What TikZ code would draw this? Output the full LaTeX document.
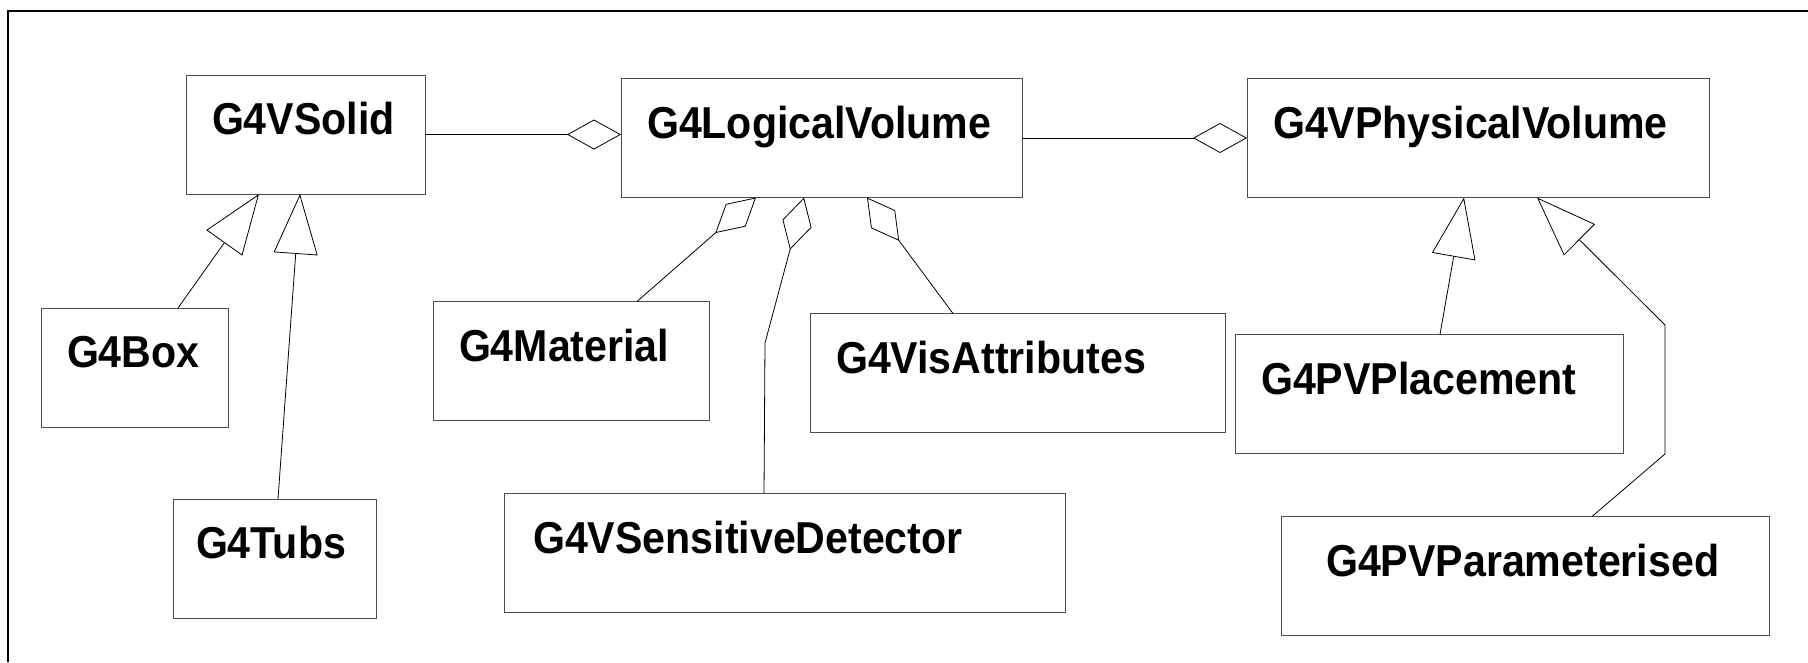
\documentclass[tikz,border=0pt]{standalone}
\usepackage{fontspec}
\setmainfont{Liberation Sans}[FakeStretch=0.92]
\usetikzlibrary{arrows.meta,positioning}

\begin{document}
\begin{tikzpicture}[x=1pt, y=-1pt, node distance={100pt},
  cls/.style = {draw=black!70, line width=1pt, outer sep=0pt, inner xsep=26pt, inner ysep=0pt, text height=59.5pt, text depth=59.5pt, align=left, font=\fontsize{44.7pt}{50pt}\selectfont\bfseries},
  aggr/.style = {line width=0.8pt, -{Diamond[open, length=54pt, width=30pt]}},
  inh/.style = {line width=0.8pt, -{Triangle[open, length=60pt, width=44pt]}}]
\useasboundingbox (0,0) rectangle (1808,662);
\draw[line width=2.5pt] (1808,11) -- (8,11) -- (8,662);
\node[cls, anchor=north west, text width=187pt] (solid) at (186,75) {G4VSolid};
\node[cls, text width=349pt] (logical) [right=196pt of solid, yshift=-3.5pt] {G4LogicalVolume};
\node[cls, text width=410pt] (physical) [right=225pt of logical] {G4VPhysicalVolume};
\node[cls, text width=135pt] (box) [below=114pt of solid, xshift=-171pt] {G4Box};
\node[cls, inner xsep=23pt, text width=157pt] (tubs) [below=72pt of box, xshift=140pt] {G4Tubs};
\node[cls, text width=224pt] (material) [below=104pt of logical, xshift=-250.5pt] {G4Material};
\node[cls, inner xsep=29pt, text width=503pt] (sensdet) [below=73pt of material, xshift=213.5pt] {G4VSensitiveDetector};
\node[cls, text width=363pt] (visattr) [right=101pt of material, yshift=-12pt] {G4VisAttributes};
\node[cls, text width=336pt] (placement) [below=137pt of physical, xshift=-49pt] {G4PVPlacement};
\node[cls, inner xsep=45pt, text width=398pt] (param) [below=63pt of placement, xshift=96pt] {G4PVParameterised};
\coordinate (sdbend) at (765,343);
\coordinate (pvbend1) at (1665,454);
\coordinate (pvbend2) at (1665,325);
\draw[aggr] (solid.east) -- (solid.east -| logical.west);
\draw[aggr] (logical.east) -- (physical.west);
\draw[aggr] ([xshift=66pt]material.north) -- ([xshift=-65.5pt]logical.south);
\draw[aggr] ([xshift=-20.5pt]sensdet.north) -- (sdbend) -- ([xshift=-17.5pt]logical.south);
\draw[aggr] ([xshift=-64.5pt]visattr.north) -- ([xshift=45.5pt]logical.south);
\draw[inh] ([xshift=43.5pt]box.north) -- ([xshift=-46.5pt]solid.south);
\draw[inh] ([xshift=3.5pt]tubs.north) -- ([xshift=-5.5pt]solid.south);
\draw[inh] ([xshift=11pt]placement.north) -- ([xshift=-14pt]physical.south);
\draw[inh] ([xshift=67pt]param.north) -- (pvbend1) -- (pvbend2) -- ([xshift=59pt]physical.south);
\end{tikzpicture}
\end{document}
